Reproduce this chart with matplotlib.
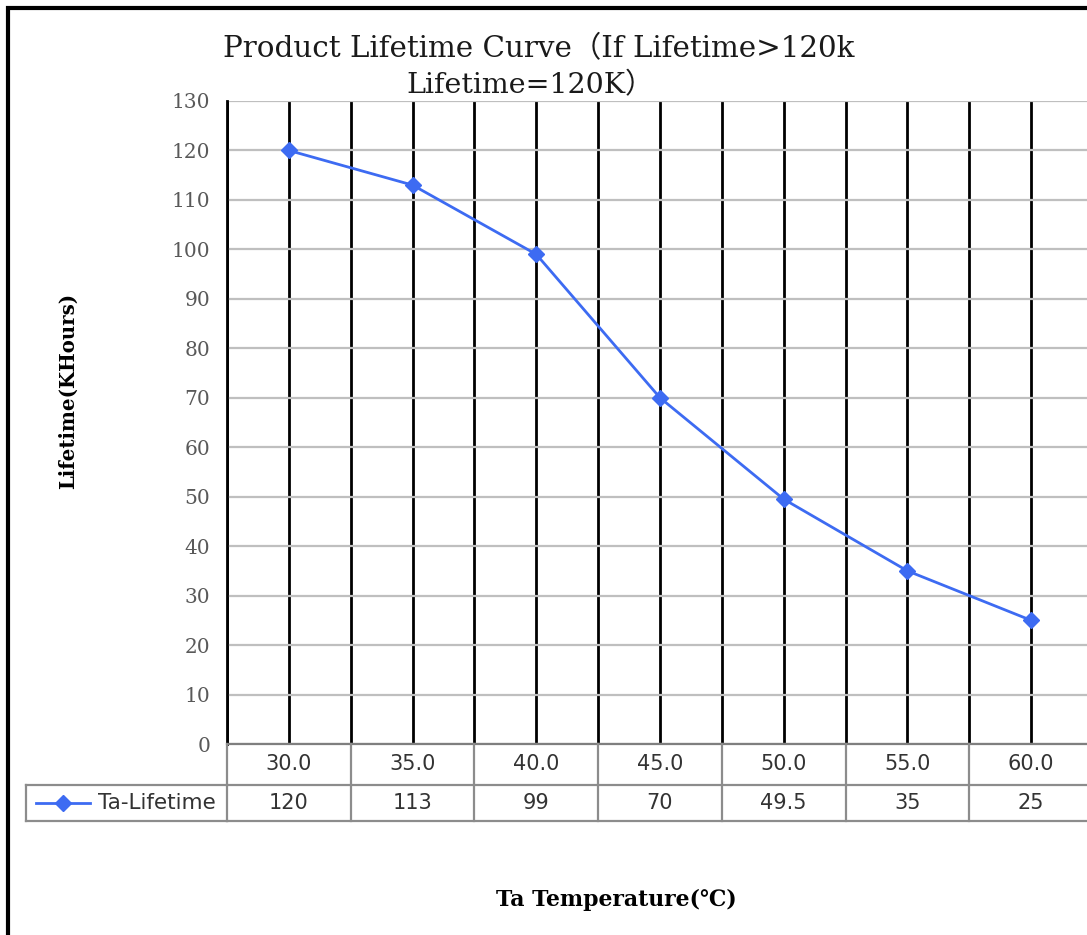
import matplotlib
matplotlib.use("Agg")
import matplotlib.pyplot as plt
from matplotlib.transforms import blended_transform_factory
from matplotlib.lines import Line2D
from matplotlib.patches import Rectangle

# data
temps = ["30.0", "35.0", "40.0", "45.0", "50.0", "55.0", "60.0"]
lifetime = [120, 113, 99, 70, 49.5, 35, 25]
lifetime_labels = ["120", "113", "99", "70", "49.5", "35", "25"]
series_name = "Ta-Lifetime"

W, H = 1087, 935
fig = plt.figure(figsize=(W / 100, H / 100), dpi=100)

def fx(px):
    return px / W

def fy(py):
    return 1 - py / H

# plot area in pixels
left, right, top, bottom = 227, 1093, 101, 744
ax = fig.add_axes([fx(left), fy(bottom), fx(right - left), (bottom - top) / H])

blue = "#3D6BF2"
x = list(range(len(temps)))
ax.plot(x, lifetime, color=blue, lw=2, marker="D", ms=8, zorder=5, clip_on=False)

ax.set_xlim(-0.5, len(temps) - 0.5)
ax.set_ylim(0, 130)
ax.set_yticks(range(0, 131, 10))
ax.set_yticklabels([str(v) for v in range(0, 131, 10)],
                   fontfamily="DejaVu Serif", fontsize=14.5, color="#595959")
ax.tick_params(axis="y", length=0, pad=12)
ax.set_xticks(x)
ax.set_xticks([i - 0.5 for i in x] + [len(temps) - 0.5], minor=True)
ax.tick_params(axis="x", which="both", length=0, labelbottom=False)
ax.grid(axis="y", color="#bfbfbf", lw=1.6)
ax.grid(axis="x", which="major", color="black", lw=2)
ax.grid(axis="x", which="minor", color="black", lw=2)
for s in ["top", "right"]:
    ax.spines[s].set_visible(False)
ax.spines["left"].set_color("black")
ax.spines["left"].set_linewidth(2)
ax.spines["bottom"].set_color("#7f7f7f")
ax.spines["bottom"].set_linewidth(1.6)
ax.set_axisbelow(True)

# data table under the plot
tr = blended_transform_factory(ax.transData, fig.transFigure)
gray = "#8c8c8c"
row1, row2, row3 = 744, 785, 821
xmin, xmax = -0.5, len(temps) - 0.5
for xb in [i - 0.5 for i in x] + [xmax]:
    fig.add_artist(Line2D([xb, xb], [fy(row1), fy(row3)], transform=tr, color=gray, lw=1.6))
fig.add_artist(Line2D([xmin, xmax], [fy(row2), fy(row2)], transform=tr, color=gray, lw=1.6))
fig.add_artist(Line2D([fx(26), fx(left)], [fy(row2), fy(row2)], transform=fig.transFigure, color=gray, lw=1.6))
fig.add_artist(Line2D([xmin, xmax], [fy(row3), fy(row3)], transform=tr, color=gray, lw=1.6))
fig.add_artist(Line2D([fx(26), fx(left)], [fy(row3), fy(row3)], transform=fig.transFigure, color=gray, lw=1.6))
fig.add_artist(Line2D([fx(26), fx(26)], [fy(row2), fy(row3)], transform=fig.transFigure, color=gray, lw=1.6))

tfont = dict(fontfamily="DejaVu Sans", fontsize=15, color="#333333")
for i, (t, v) in enumerate(zip(temps, lifetime_labels)):
    fig.text(i, fy((row1 + row2) / 2), t, transform=tr, ha="center", va="center", **tfont)
    fig.text(i, fy((row2 + row3) / 2), v, transform=tr, ha="center", va="center", **tfont)

# legend key in the table
ym = fy((row2 + row3) / 2)
fig.add_artist(Line2D([fx(36), fx(90)], [ym, ym], transform=fig.transFigure, color=blue, lw=2))
fig.add_artist(Line2D([fx(63)], [ym], transform=fig.transFigure, color=blue, marker="D", ms=8))
fig.text(fx(98), ym, series_name, ha="left", va="center", fontfamily="DejaVu Sans",
         fontsize=15.5, color="#333333")

# titles and labels
fams = ["DejaVu Serif", "Noto Sans CJK SC"]
fig.text(fx(539), fy(49), "Product Lifetime Curve（If Lifetime>120k",
         ha="center", va="center", fontsize=21.2, family=fams, color="#1a1a1a")
fig.text(fx(530), fy(86), "Lifetime=120K）",
         ha="center", va="center", fontsize=20.5, family=fams, color="#1a1a1a")
fig.text(fx(68), fy(391), "Lifetime(KHours)", rotation=90, ha="center", va="center",
         fontsize=14.2, fontweight="bold", family=fams)
fig.text(fx(616), fy(900), "Ta Temperature(℃)", ha="center", va="center",
         fontsize=15.8, fontweight="bold", family=fams)

# outer frame
fig.add_artist(Rectangle((fx(8), -0.05), 1.1, fy(8) + 0.05, transform=fig.transFigure,
                         fill=False, ec="black", lw=3))

plt.savefig("out.png", dpi=100)
